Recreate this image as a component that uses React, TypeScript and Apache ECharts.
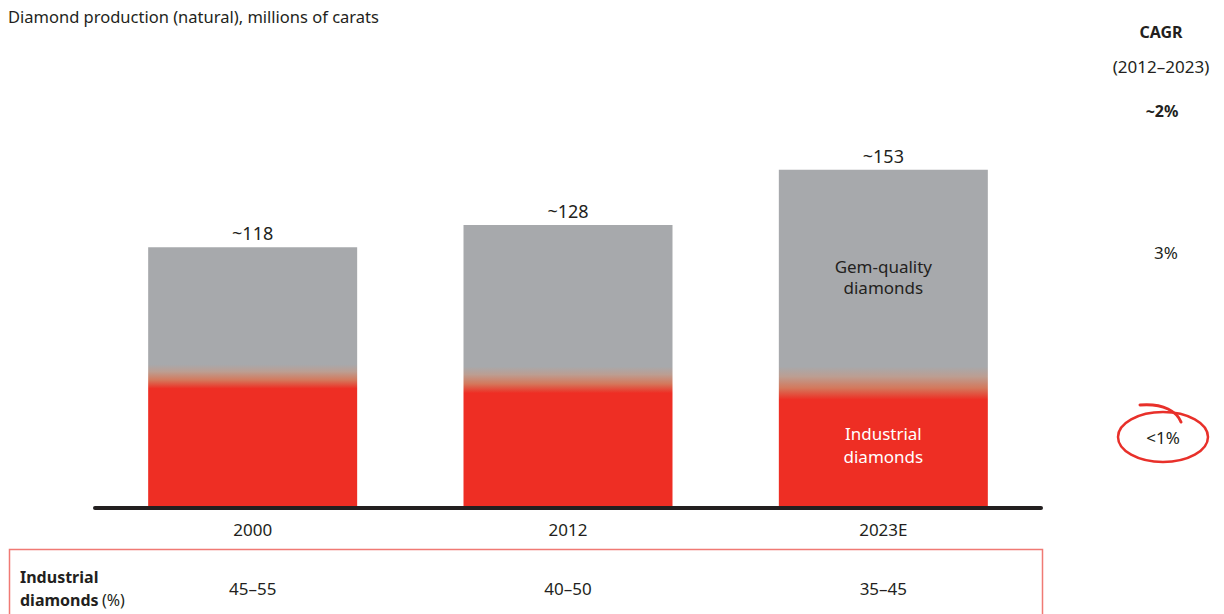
import React, { useEffect, useRef } from "react";
import * as echarts from "echarts";

// ---- data ----
const categories = ["2000", "2012", "2023E"];
const totals = [118, 128, 153];
const totalLabels = ["~118", "~128", "~153"];
// industrial part: solid red up to redSolidTop, blended into grey up to blendTop (millions of carats)
const redSolidTop = [54, 52, 49];
const blendTop = [65, 64, 64];
const industrialShareLabels = ["45–55", "40–50", "35–45"];
const cagrTitle = "CAGR";
const cagrPeriod = "(2012–2023)";
const cagrTotal = "~2%";
const cagrGem = "3%";
const cagrIndustrial = "<1%";

const FONT = '"Noto Sans", sans-serif';
const GREY = "#A7A9AC";
const RED = "#EE2E24";
const DARK = "#231F20";

export default function App() {
  const ref = useRef<HTMLDivElement>(null);
  useEffect(() => {
    if (!ref.current) return;
    const chart = echarts.init(ref.current, undefined, { renderer: "svg" });
    const barData = totals.map((t, i) => {
      const gTop = 1 - blendTop[i] / t;
      const rTop = 1 - redSolidTop[i] / t;
      return {
        value: t,
        itemStyle: {
          color: new echarts.graphic.LinearGradient(0, 0, 0, 1, [
            { offset: 0, color: GREY },
            { offset: gTop, color: GREY },
            { offset: gTop + (rTop - gTop) * 0.3, color: "#BC9E92" },
            { offset: gTop + (rTop - gTop) * 0.65, color: "#D4785C" },
            { offset: rTop, color: RED },
            { offset: 1, color: RED },
          ]),
        },
      };
    });
    chart.setOption({
      animation: false,
      textStyle: { fontFamily: FONT },
      grid: { left: 95, right: 183, top: 66, bottom: 106 },
      xAxis: [
        {
          type: "category",
          data: categories,
          z: 5,
          axisLine: { show: true, lineStyle: { color: DARK, width: 4 } },
          axisTick: { show: false },
          axisLabel: { color: DARK, fontSize: 17, margin: 13, fontFamily: FONT },
        },
        {
          type: "category",
          data: categories,
          position: "bottom",
          offset: 58,
          axisLine: { show: false },
          axisTick: { show: false },
          axisLabel: {
            color: DARK,
            fontSize: 17,
            margin: 14,
            fontFamily: FONT,
            formatter: (_v: string, i: number) => industrialShareLabels[i],
          },
        },
      ],
      yAxis: { type: "value", min: 0, max: 200, show: false },
      series: [
        {
          type: "bar",
          xAxisIndex: 0,
          barWidth: 209,
          data: barData,
          label: {
            show: true,
            position: "top",
            distance: 5,
            color: DARK,
            fontSize: 18,
            fontFamily: FONT,
            formatter: (p: any) => totalLabels[p.dataIndex],
          },
        },
      ],
    });
    const lastX = chart.convertToPixel({ xAxisIndex: 0 }, categories[2]) as number;
    chart.setOption({
      graphic: [
        {
          type: "text",
          left: 8,
          top: 8,
          z: 100,
          style: { text: "Diamond production (natural), millions of carats", font: `16.5px ${FONT}`, fill: DARK },
        },
        {
          type: "text",
          x: lastX,
          y: 277,
          z: 100,
          style: {
            text: "Gem-quality\ndiamonds",
            font: `17px ${FONT}`,
            fill: DARK,
            align: "center",
            verticalAlign: "middle",
            lineHeight: 21,
          },
        },
        {
          type: "text",
          x: lastX,
          y: 445,
          z: 100,
          style: {
            text: "Industrial\ndiamonds",
            font: `17px ${FONT}`,
            fill: "#FFFFFF",
            align: "center",
            verticalAlign: "middle",
            lineHeight: 23,
          },
        },
        { type: "text", x: 1161, y: 32, z: 100, style: { text: cagrTitle, font: `bold 16px ${FONT}`, fill: DARK, align: "center", verticalAlign: "middle" } },
        { type: "text", x: 1161, y: 66, z: 100, style: { text: cagrPeriod, font: `17px ${FONT}`, fill: DARK, align: "center", verticalAlign: "middle" } },
        { type: "text", x: 1162, y: 111, z: 100, style: { text: cagrTotal, font: `bold 16px ${FONT}`, fill: DARK, align: "center", verticalAlign: "middle" } },
        { type: "text", x: 1166, y: 252, z: 100, style: { text: cagrGem, font: `17px ${FONT}`, fill: DARK, align: "center", verticalAlign: "middle" } },
        { type: "text", x: 1163, y: 437, z: 100, style: { text: cagrIndustrial, font: `17px ${FONT}`, fill: DARK, align: "center", verticalAlign: "middle" } },
        {
          type: "ellipse",
          z: 100,
          shape: { cx: 1163, cy: 437, rx: 45, ry: 25 },
          style: { fill: "none", stroke: "#E8302A", lineWidth: 2.5 },
        },
        {
          type: "bezierCurve",
          z: 100,
          shape: { x1: 1140, y1: 405, cpx1: 1164, cpy1: 403, cpx2: 1177, cpy2: 412, x2: 1181, y2: 422 },
          style: { fill: "none", stroke: "#E8302A", lineWidth: 3, lineCap: "round" },
        },
        {
          type: "rect",
          z: 100,
          shape: { x: 9.5, y: 549.5, width: 1033, height: 100 },
          style: { fill: "none", stroke: "#F07A74", lineWidth: 1.5 },
        },
        {
          type: "text",
          x: 20,
          y: 588,
          z: 100,
          style: {
            text: "{b|Industrial}\n{b|diamonds} {n|(%)}",
            verticalAlign: "middle",
            rich: {
              b: { font: `bold 16px ${FONT}`, fill: DARK, lineHeight: 23 },
              n: { font: `16px ${FONT}`, fill: DARK, lineHeight: 23 },
            },
          },
        },
      ],
    });
    return () => chart.dispose();
  }, []);
  return <div ref={ref} style={{ position: "absolute", left: 0, top: 0, width: 1224, height: 614 }} />;
}
